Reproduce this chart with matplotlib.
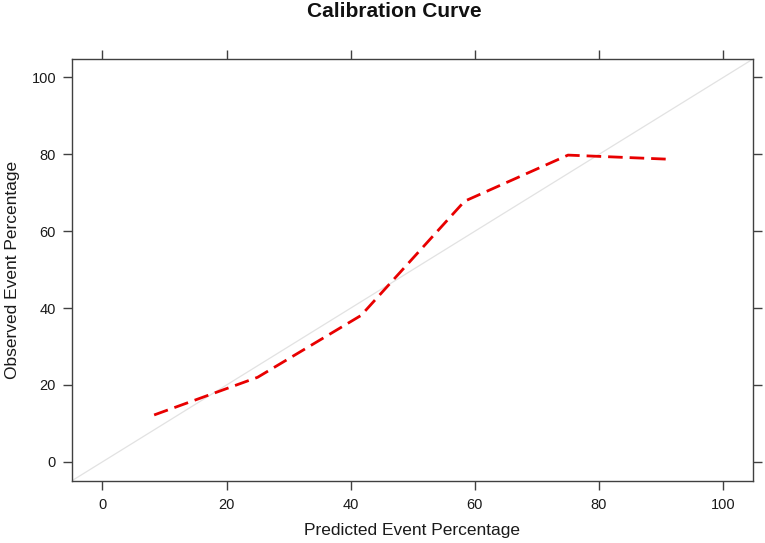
import matplotlib
matplotlib.use("Agg")
import matplotlib.pyplot as plt

plt.rcParams['font.family'] = ['Liberation Sans', 'DejaVu Sans']
plt.rcParams['lines.scale_dashes'] = False

# Data
predicted = [8.33, 25.0, 41.67, 58.33, 75.0, 91.67]
observed = [12.2, 22.0, 38.1, 67.8, 79.8, 78.7]
ticks = [0, 20, 40, 60, 80, 100]
tick_labels = ["0", "20", "40", "60", "80", "100"]
lims = (-4.9, 104.8)

fig = plt.figure(figsize=(7.65, 5.43), dpi=100)
ax = fig.add_axes([72/765, 1-480.7/543, (753-72)/765, (480.7-59)/543])

ax.plot(lims, lims, color='#e2e2e2', lw=0.9, zorder=1)
ax.plot(predicted, observed, color='#e80000', lw=2.0,
        linestyle=(0, (10.5, 5.0)), zorder=2)

ax.set_xlim(lims)
ax.set_ylim(lims)
ax.set_xticks(ticks)
ax.set_xticklabels(tick_labels)
ax.set_yticks(ticks)
ax.set_yticklabels(tick_labels)

for s in ax.spines.values():
    s.set_color('#404040')
    s.set_linewidth(1.0)

ax.tick_params(axis='both', direction='out', length=6.5, width=1.0,
               color='#404040', labelsize=10.5, labelcolor='#1a1a1a',
               top=True, right=True, labeltop=False, labelright=False)
ax.tick_params(axis='x', pad=6)
ax.tick_params(axis='y', pad=5)

fig.text(394/765, 1-17/543, "Calibration Curve", ha='center', va='baseline',
         fontsize=15, fontweight='bold', color='#111111')
fig.text(411.5/765, 1-535/543, "Predicted Event Percentage", ha='center',
         va='baseline', fontsize=12.5, color='#1a1a1a')
fig.text(17/765, 1-270/543, "Observed Event Percentage", ha='center',
         va='baseline', rotation=90, rotation_mode='anchor', fontsize=12.5,
         color='#1a1a1a')

fig.savefig("out.png", dpi=100)
